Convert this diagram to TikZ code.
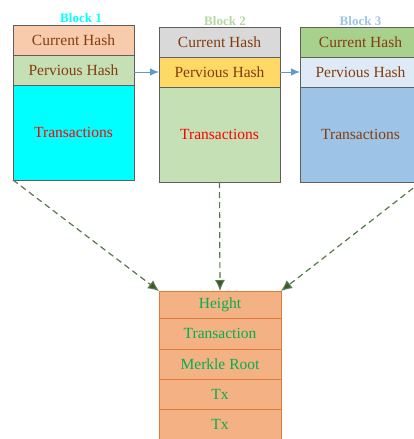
\documentclass[tikz,border=0pt]{standalone}
\usepackage{fontspec}
\setmainfont{Liberation Serif}
\usetikzlibrary{arrows.meta}

\definecolor{edgegray}{HTML}{5F5F5F}
\definecolor{txtbrown}{HTML}{843C0C}
\definecolor{txtred}{HTML}{FF0000}
\definecolor{peach}{HTML}{F8CBAD}
\definecolor{palegreen}{HTML}{C5E0B4}
\definecolor{aqua}{HTML}{00FFFF}
\definecolor{lightgray}{HTML}{D9D9D9}
\definecolor{gold}{HTML}{FFD966}
\definecolor{midgreen}{HTML}{A9D18E}
\definecolor{paleblue}{HTML}{DEEBF7}
\definecolor{skyblue}{HTML}{9DC3E6}
\definecolor{orangefill}{HTML}{F4B183}
\definecolor{orangeedge}{HTML}{E07A38}
\definecolor{fieldgreen}{HTML}{00B050}
\definecolor{linkblue}{HTML}{5B9BD5}
\definecolor{dashgreen}{HTML}{56784A}
\definecolor{tipgreen}{HTML}{385723}

\tikzset{
  cell/.style={draw=edgegray, line width=0.9pt, anchor=north west,
    inner sep=0pt, outer sep=0pt, minimum width=121pt,
    font=\fontsize{15.5}{18}\selectfont, text=txtbrown},
  field/.style={draw=orangeedge, fill=orangefill, line width=0.9pt,
    anchor=north west, inner sep=0pt, outer sep=0pt, minimum width=122pt,
    font=\fontsize{15.5}{18}\selectfont, text=fieldgreen},
  blocktitle/.style={font=\fontsize{13}{15}\selectfont\bfseries, inner sep=0pt},
  link/.style={draw=linkblue, line width=1pt,
    -{Latex[length=9pt,width=7.5pt]}},
  feed/.style={draw=dashgreen, line width=1.2pt, dash pattern=on 6pt off 4pt,
    -{Latex[length=11pt,width=10pt,fill=tipgreen]}},
}

\begin{document}
\begin{tikzpicture}[x=1pt, y=-1pt]
\useasboundingbox (0,0) rectangle (414,439);
\clip (0,0) rectangle (414,439);

% Block 1
\node[blocktitle, text=aqua] (t1) at (81,18) {Block 1};
\node[cell, fill=peach, minimum height=30pt] (b1c) at (13,25) {Current Hash};
\node[cell, fill=palegreen, minimum height=30pt] (b1p) at (13,55) {Pervious Hash};
\node[cell, fill=aqua, minimum height=95pt, text=txtred] (b1t) at (13,85) {Transactions};

% Block 2
\node[blocktitle, text=midgreen!85!white] (t2) at (225,21) {Block 2};
\node[cell, fill=lightgray, minimum height=30pt] (b2c) at (159,27) {Current Hash};
\node[cell, fill=gold, minimum height=30pt] (b2p) at (159,57) {Pervious Hash};
\node[cell, fill=palegreen, minimum height=95pt, text=txtred] (b2t) at (159,87) {Transactions};

% Block 3
\node[blocktitle, text=skyblue] (t3) at (360.5,21) {Block 3};
\node[cell, fill=midgreen, minimum height=30pt] (b3c) at (300,27) {Current Hash};
\node[cell, fill=paleblue, minimum height=30pt] (b3p) at (300,57) {Pervious Hash};
\node[cell, fill=skyblue, minimum height=95pt] (b3t) at (300,87) {Transactions};

% Block body fields
\node[field, minimum height=27pt] (h1) at (159,291) {Height};
\node[field, minimum height=31pt] (h2) at (159,318) {Transaction};
\node[field, minimum height=30pt] (h3) at (159,349) {Merkle Root};
\node[field, minimum height=30pt] (h4) at (159,379) {Tx};
\node[field, minimum height=30pt] (h5) at (159,409) {Tx};

% Hash chain links
\draw[link] (b1p.east |- b2p.west) -- (b2p.west);
\draw[link] (b2p.east) -- (b3p.west);

% Blocks feeding the body
\draw[feed] (b1t.south west) -- (h1.north west);
\draw[feed] (b2t.south) -- (h1.north);
\draw[feed] (b3t.south east) -- (h1.north east);
\end{tikzpicture}
\end{document}
